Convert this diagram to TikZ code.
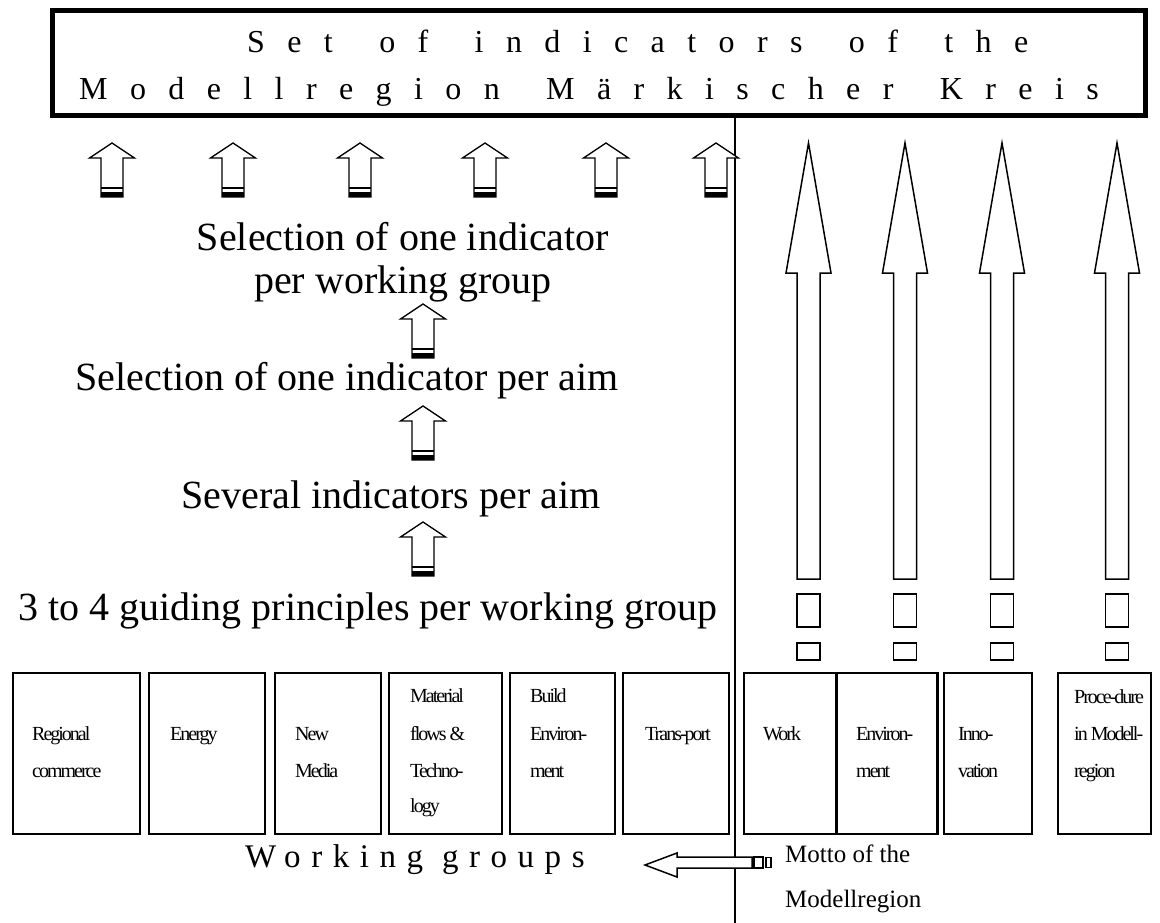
\documentclass[tikz,border=0pt]{standalone}
\usepackage{fontspec}
\setmainfont{Liberation Serif}
\newfontfamily\titlefont[LetterSpace=70]{Liberation Serif}
\newfontfamily\wgfont[LetterSpace=32]{Liberation Serif}
\newfontfamily\cfont[LetterSpace=-10]{Liberation Serif}
\newcommand{\ws}{\hspace{16pt}}
\newcommand{\uparr}[2]{%
  \draw[line width=1.3pt, line join=miter, fill=white] (#1,#2) -- ++(22.5,15) -- ++(-11.5,0) -- ++(0,39) -- ++(-22,0) -- ++(0,-39) -- ++(-11.5,0) -- cycle;
  \draw[line width=1.2pt] (#1-11,#2+45) -- (#1+11,#2+45);
  \fill (#1-11,#2+49) rectangle (#1+11,#2+54);
}
\newcommand{\tallarr}[1]{%
  \draw[line width=1.5pt, line join=miter] (#1,143) -- (#1+22.5,273) -- (#1+11.5,273) -- (#1+11.5,579) -- (#1-11.5,579) -- (#1-11.5,273) -- (#1-22.5,273) -- cycle;
  \draw[line width=1.5pt] (#1-11.5,594) rectangle (#1+11.5,627);
  \draw[line width=1.5pt] (#1-11.5,643) rectangle (#1+11.5,660);
}
\begin{document}
\begin{tikzpicture}[x=1pt,y=-1pt,
  lbl/.style={font=\fontsize{40}{48}\selectfont, anchor=base, inner sep=0pt},
  boxtxt/.style={font=\cfont\fontsize{20}{24}\selectfont, anchor=base west, inner sep=0pt},
  wgbox/.style={draw, line width=1.5pt, anchor=north west, inner sep=0pt, minimum height=161pt},
  ttl/.style={font=\titlefont\fontsize{32}{38}\selectfont, anchor=base west, inner sep=0pt}
]
\useasboundingbox (0,0) rectangle (1160,923);
\fill[white] (0,0) rectangle (1160,923);

% title
\draw[line width=5pt] (52.5,10.5) rectangle (1145,115.5);
\node[ttl] (title1) at (247,53) {Set\ws{} of\ws{} indicators\ws{} of\ws{} the};
\node[ttl] (title2) at (79,100) {Modellregion\ws{} Märkischer\ws{} Kreis};

% divider
\draw[line width=1.5pt] (735,118) -- (735,923);

% top row of small arrows
\foreach \x in {112,233,360,485,606,716} { \uparr{\x}{143} }

% texts
\node[lbl] (t1) at (403,250) {Selection of one indicator};
\node[lbl] (t2) at (403,293) {per working group};
\uparr{423}{304}
\node[lbl] (t3) at (347,390) {Selection of one indicator per aim};
\uparr{423}{406}
\node[lbl] (t4) at (391,508) {Several indicators per aim};
\uparr{423}{522}
\node[lbl] (t5) at (368,620) {3 to 4 guiding principles per working group};

% tall arrows
\foreach \x in {808.5,905,1002,1117} { \tallarr{\x} }

% working-group boxes
\node[wgbox, minimum width=127pt] (b1) at (12,672) {};
\node[wgbox, minimum width=116pt] (b2) at (148,672) {};
\node[wgbox, minimum width=106pt] (b3) at (274,672) {};
\node[wgbox, minimum width=113pt] (b4) at (388,672) {};
\node[wgbox, minimum width=105pt] (b5) at (509,672) {};
\node[wgbox, minimum width=106pt] (b6) at (622,672) {};
\node[wgbox, minimum width=92pt] (b7) at (743,672) {};
\node[wgbox, minimum width=102pt] (b8) at (835,672) {};
\node[wgbox, minimum width=88pt] (b9) at (943,672) {};
\node[wgbox, minimum width=93pt] (b10) at (1057,672) {};
\draw[line width=3pt] (b7.north east) -- (b7.south east);
\draw[line width=1.5pt] (937,672) -- (937,833);

\node[boxtxt] (r1) at (32,740) {Regional};
\node[boxtxt] (r2) at (32,777) {commerce};
\node[boxtxt] (e1) at (170,740) {Energy};
\node[boxtxt] (n1) at (295,740) {New};
\node[boxtxt] (n2) at (295,777) {Media};
\node[boxtxt] (m1) at (410,702) {Material};
\node[boxtxt] (m2) at (410,740) {flows \&};
\node[boxtxt] (m3) at (410,777) {Techno-};
\node[boxtxt] (m4) at (410,812) {logy};
\node[boxtxt] (be1) at (530,702) {Build};
\node[boxtxt] (be2) at (530,740) {Environ-};
\node[boxtxt] (be3) at (530,777) {ment};
\node[boxtxt] (tr1) at (645,740) {Trans-port};
\node[boxtxt] (w1) at (763,740) {Work};
\node[boxtxt] (en1) at (856,740) {Environ-};
\node[boxtxt] (en2) at (856,777) {ment};
\node[boxtxt] (in1) at (958,740) {Inno-};
\node[boxtxt] (in2) at (958,777) {vation};
\node[boxtxt] (p1) at (1074,703) {Proce-dure};
\node[boxtxt] (p2) at (1074,740) {in Modell-};
\node[boxtxt] (p3) at (1074,777) {region};

% bottom labels
\node[font=\wgfont\fontsize{33}{40}\selectfont, anchor=base west, inner sep=0pt] (wg) at (245,867) {Working groups};
\node[font=\fontsize{25}{30}\selectfont, anchor=base west, inner sep=0pt] (mo1) at (785,862) {Motto of the};
\node[font=\fontsize{25}{30}\selectfont, anchor=base west, inner sep=0pt] (mo2) at (785,907) {Modellregion};

% motto arrow
\draw[line width=1.5pt, fill=white] (645,865) -- (677,853) -- (677,857) -- (752,857) -- (752,868) -- (677,868) -- (677,877) -- cycle;
\draw[line width=1.5pt] (754,857) rectangle (763,868);
\draw[line width=1.5pt] (766,857.5) rectangle (771,867.5);
\end{tikzpicture}
\end{document}
